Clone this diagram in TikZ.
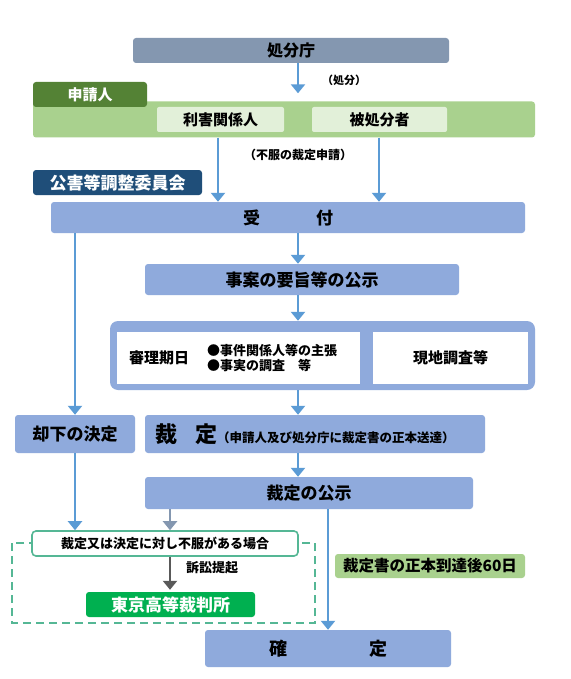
\documentclass[tikz,border=0pt]{standalone}
\usepackage{fontspec}
\setmainfont{Noto Sans CJK JP}
\usetikzlibrary{arrows.meta}
\definecolor{gblue}{HTML}{8497B0}
\definecolor{dgreen}{HTML}{548235}
\definecolor{lgreen}{HTML}{A9D18E}
\definecolor{pgreen}{HTML}{E2F0D9}
\definecolor{navy}{HTML}{1F4E79}
\definecolor{bbox}{HTML}{8FAADC}
\definecolor{ablue}{HTML}{5B9BD5}
\definecolor{teal}{HTML}{55B795}
\definecolor{court}{HTML}{00B050}
\definecolor{dgray}{HTML}{595959}
\newcommand{\fs}[1]{\fontsize{#1}{#1}\selectfont}
\begin{document}
\begin{tikzpicture}[x=1pt,y=-1pt,
  box/.style={rounded corners=3pt, inner sep=0pt, font=\bfseries, text=black},
  arr/.style={draw=ablue, line width=2.8pt, -{Triangle[width=14pt,length=9pt]}},
  garr/.style={draw=gblue, line width=2.8pt, -{Triangle[width=14pt,length=9pt]}},
  darr/.style={draw=dgray, line width=2.8pt, -{Triangle[width=14pt,length=9pt]}},
  lbl/.style={inner sep=0pt, font=\bfseries, text=black}]
\useasboundingbox (0,0) rectangle (570,679);
\fill[white] (0,0) rectangle (570,679);
% coordinates for vertical connector lines
\coordinate (xa) at (298,0);
\coordinate (xl) at (75,0);
\coordinate (xr1) at (218,0);
\coordinate (xr2) at (379,0);
\coordinate (xg) at (170,0);
\coordinate (xk) at (328,0);

\node[box, fill=gblue, minimum width=316pt, minimum height=25pt] (shobun) at (291,50.5) {\fs{16}処分庁};
\node[lbl] (lshobun) at (344,80) {\fs{11}（処分）};

\node[box, fill=lgreen, minimum width=502pt, minimum height=36pt] (bar) at (284,119.5) {};
\node[box, fill=dgreen, minimum width=114pt, minimum height=25pt, text=white] (tab) at (90,94.5) {\fs{15}申請人};
\node[box, fill=pgreen, minimum width=127pt, minimum height=25pt, rounded corners=2pt] (rigai) at (220.5,119.5) {\fs{15}利害関係人};
\node[box, fill=pgreen, minimum width=135pt, minimum height=25pt, rounded corners=2pt] (hi) at (379.5,119.5) {\fs{15}被処分者};

\node[lbl] (lfufuku) at (298,155) {\fs{12}（不服の裁定申請）};
\node[box, fill=navy, minimum width=169pt, minimum height=25pt, text=white] (kogai) at (117.5,182.5) {\fs{17}公害等調整委員会};

\node[box, fill=bbox, minimum width=474pt, minimum height=31pt] (uke) at (288,217.5) {\fs{17}受\hspace{56pt}付};
\node[box, fill=bbox, minimum width=314pt, minimum height=31pt] (jian) at (302,279.5) {\fs{17}事案の要旨等の公示};

\node[box, fill=bbox, minimum width=425pt, minimum height=69pt, rounded corners=8pt] (cont) at (322.5,355.5) {};
\node[box, fill=white, minimum width=243pt, minimum height=52pt, rounded corners=0pt] (shinri) at (238.5,358) {};
\node[lbl, anchor=west] (shinrit) at (129,358) {\fs{15}審理期日};
\node[lbl, anchor=west, align=left] (shinrib) at (207,358) {\fs{13}●事件関係人等の主張\\[1pt]\fs{13}●事実の調査\hspace{13pt}等};
\node[box, fill=white, minimum width=155pt, minimum height=52pt, rounded corners=0pt] (genchi) at (450.5,358) {\fs{15}現地調査等};

\node[box, fill=bbox, minimum width=120pt, minimum height=38pt] (kyakka) at (75,434) {\fs{17}却下の決定};
\node[box, fill=bbox, minimum width=340pt, minimum height=38pt] (saitei) at (315,434) {};
\node[lbl, anchor=west] (saiteit) at (155,434) {\fs{22}裁\hspace{18pt}定\fs{12.5}（申請人及び処分庁に裁定書の正本送達）};

\node[box, fill=bbox, minimum width=328pt, minimum height=32pt] (koji) at (309,493) {\fs{17}裁定の公示};

\draw[teal, line width=1.6pt, dash pattern=on 8pt off 5pt] (12,543) rectangle (315,623);
\node[box, fill=white, draw=teal, line width=1.6pt, minimum width=266pt, minimum height=25pt, rounded corners=4pt] (fuf) at (165,543.5) {\fs{13}裁定又は決定に対し不服がある場合};
\node[box, fill=court, minimum width=169pt, minimum height=25pt, text=white] (tokyo) at (170.5,604.5) {\fs{17}東京高等裁判所};
\node[lbl] (lsosho) at (212,568) {\fs{13}訴訟提起};

\node[box, fill=lgreen, minimum width=190pt, minimum height=24pt] (roku) at (430,566) {\fs{15.5}裁定書の正本到達後60日};
\node[box, fill=bbox, minimum width=246pt, minimum height=37pt] (kakutei) at (328,648.5) {};
\node[lbl] (kakuteit) at (328,648.5) {\fs{18}確\hspace{82pt}定};

% connectors
\draw[arr, shorten >=8pt] (shobun.south -| xa) -- (bar.north -| xa);
\draw[arr] (bar.south -| xr1) -- (uke.north -| xr1);
\draw[arr] (bar.south -| xr2) -- (uke.north -| xr2);
\draw[arr] (uke.south -| xa) -- (jian.north -| xa);
\draw[arr] (jian.south -| xa) -- (cont.north -| xa);
\draw[arr] (uke.south -| xl) -- (kyakka.north -| xl);
\draw[arr] (cont.south -| xa) -- (saitei.north -| xa);
\draw[arr] (saitei.south -| xa) -- (koji.north -| xa);
\draw[arr] (kyakka.south -| xl) -- (fuf.north -| xl);
\draw[garr] (koji.south -| xg) -- (fuf.north -| xg);
\draw[arr] (koji.south -| xk) -- (kakutei.north -| xk);
\draw[darr, shorten >=2pt] (fuf.south -| xg) -- (tokyo.north -| xg);
\end{tikzpicture}
\end{document}
